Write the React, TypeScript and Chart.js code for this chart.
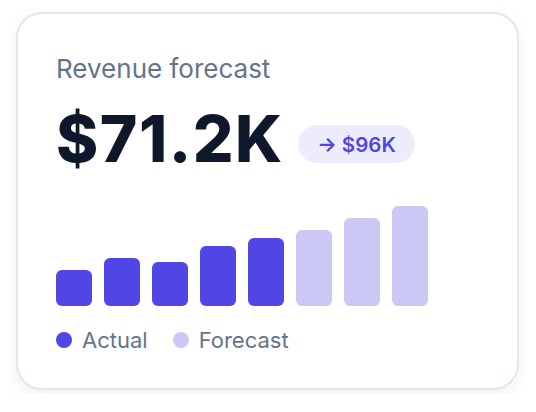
import React, { useEffect, useRef } from "react";
import { Chart, registerables } from "chart.js";

Chart.register(...registerables);

const periods = ["P1", "P2", "P3", "P4", "P5", "P6", "P7", "P8"];
const actualValues = [36, 48, 44, 60, 68, null, null, null];
const forecastValues = [null, null, null, null, null, 76, 88, 100];
const title = "Revenue forecast";
const headline = "$71.2K";
const forecastBadge = "→ $96K";
const legendLabels = ["Actual", "Forecast"];

const ACTUAL = "#4f46e5";
const FORECAST = "#cbc8f6";

export default function App() {
  const ref = useRef<HTMLCanvasElement | null>(null);

  useEffect(() => {
    if (!ref.current) return;
    const chart = new Chart(ref.current, {
      type: "bar",
      data: {
        labels: periods,
        datasets: [
          {
            label: legendLabels[0],
            data: actualValues,
            backgroundColor: ACTUAL,
            borderRadius: 6,
            borderSkipped: false,
            grouped: false,
            barPercentage: 0.75,
            categoryPercentage: 1,
          },
          {
            label: legendLabels[1],
            data: forecastValues,
            backgroundColor: FORECAST,
            borderRadius: 6,
            borderSkipped: false,
            grouped: false,
            barPercentage: 0.75,
            categoryPercentage: 1,
          },
        ],
      },
      options: {
        responsive: false,
        animation: false,
        layout: { padding: 0 },
        plugins: { legend: { display: false }, tooltip: { enabled: false } },
        scales: {
          x: { display: false },
          y: { display: false, min: 0, max: 100 },
        },
      },
    });
    return () => chart.destroy();
  }, []);

  const font = "Inter, 'Noto Sans', sans-serif";

  return (
    <div style={{ padding: "4px 8px", fontFamily: font }}>
      <div
        style={{
          position: "relative",
          boxSizing: "border-box",
          width: 503,
          height: 378,
          border: "2px solid #e3e7ef",
          borderRadius: 26,
          background: "#fff",
          boxShadow: "0 6px 18px rgba(15,23,42,0.06)",
        }}
      >
        <div
          style={{
            position: "absolute",
            left: 38,
            top: 41.5,
            fontSize: 26,
            lineHeight: "26px",
            color: "#64748b",
            whiteSpace: "nowrap",
          }}
        >
          {title}
        </div>
        <div
          style={{
            position: "absolute",
            left: 38,
            top: 92.7,
            fontSize: 64,
            lineHeight: "64px",
            fontWeight: 800,
            letterSpacing: 1.5,
            color: "#0f172a",
            whiteSpace: "nowrap",
          }}
        >
          {headline}
        </div>
        <div
          style={{
            position: "absolute",
            left: 280,
            top: 111,
            height: 38,
            width: 117,
            borderRadius: 19,
            background: "#edecfc",
            color: ACTUAL,
            fontSize: 20.5,
            fontWeight: 600,
            display: "flex",
            alignItems: "center",
            justifyContent: "center",
            whiteSpace: "nowrap",
          }}
        >
          {forecastBadge}
        </div>
        <canvas
          ref={ref}
          width={384}
          height={100}
          style={{ position: "absolute", left: 32, top: 192, width: 384, height: 100 }}
        />
        <div
          style={{
            position: "absolute",
            left: 38,
            top: 315,
            display: "flex",
            alignItems: "center",
            fontSize: 22,
            lineHeight: "22px",
            color: "#64748b",
            whiteSpace: "nowrap",
          }}
        >
          <span style={{ width: 16, height: 16, borderRadius: 8, background: ACTUAL, marginRight: 10 }} />
          <span style={{ marginRight: 25 }}>{legendLabels[0]}</span>
          <span style={{ width: 16, height: 16, borderRadius: 8, background: FORECAST, marginRight: 10 }} />
          <span>{legendLabels[1]}</span>
        </div>
      </div>
    </div>
  );
}
